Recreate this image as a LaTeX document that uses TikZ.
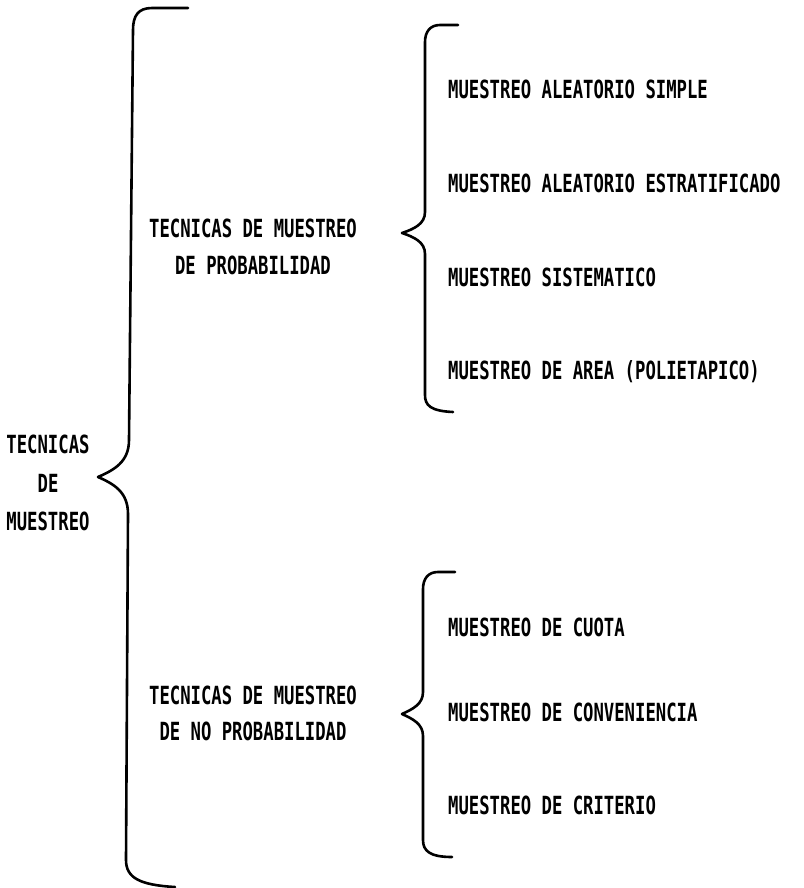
\documentclass[tikz,border=0pt]{standalone}
\usepackage{fontspec}
\newfontfamily\plotfont[FakeStretch=0.69]{DejaVu Sans Mono}
\begin{document}
\begin{tikzpicture}[x=1pt,y=-1pt,
    every node/.style={font=\plotfont\bfseries\fontsize{25}{30}\selectfont,
      inner sep=0pt, text height=18pt, text depth=0pt},
    item/.style={anchor=west},
    brace/.style={line width=2.6pt, line cap=round, line join=round}]
  \useasboundingbox (0,0) rectangle (803,888);
  % root
  \draw
    (48,444) node (t1){TECNICAS}
    (48,483) node (t2){DE}
    (48,521) node (t3){MUESTREO};
  % branches
  \draw
    (253,228) node (p1){TECNICAS DE MUESTREO}
    (253,265) node (p2){DE PROBABILIDAD}
    (253,695) node (n1){TECNICAS DE MUESTREO}
    (253,731) node (n2){DE NO PROBABILIDAD};
  % leaves
  \draw
    (448,90) node[item] (p11){MUESTREO ALEATORIO SIMPLE}
    (448,183) node[item] (p12){MUESTREO ALEATORIO ESTRATIFICADO}
    (448,277) node[item] (p13){MUESTREO SISTEMATICO}
    (448,370) node[item] (p14){MUESTREO DE AREA (POLIETAPICO)}
    (448,627) node[item] (n11){MUESTREO DE CUOTA}
    (448,712) node[item] (n12){MUESTREO DE CONVENIENCIA}
    (448,805) node[item] (n13){MUESTREO DE CRITERIO};
  \begin{scope}[brace]
    % big brace
    \draw (188,8) -- (152,8) .. controls (138,8) and (133,16) .. (133,30)
      -- (129,440) .. controls (129,462) and (114,470) .. (98,477)
      .. controls (114,484) and (128,492) .. (128,514)
      -- (126,860) .. controls (126,878) and (140,885) .. (175,887);
    % upper brace
    \draw (458,25) -- (440,25) .. controls (430,25) and (425,32) .. (425,42)
      -- (425,212) .. controls (425,224) and (414,229) .. (402,233)
      .. controls (414,237) and (425,242) .. (425,254)
      -- (425,395) .. controls (425,405) and (430,411) .. (453,412);
    % lower brace
    \draw (455,572) -- (438,572) .. controls (428,572) and (423,579) .. (423,589)
      -- (423,692) .. controls (423,704) and (413,709) .. (402,714)
      .. controls (413,719) and (423,724) .. (423,736)
      -- (423,840) .. controls (423,851) and (430,857) .. (452,857);
  \end{scope}
\end{tikzpicture}
\end{document}
